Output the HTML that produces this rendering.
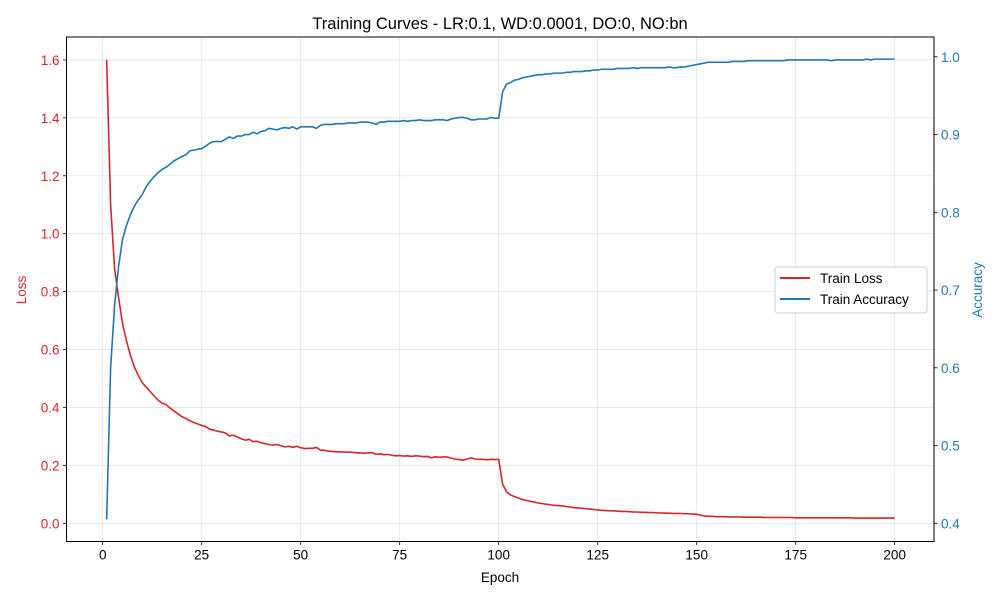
<!DOCTYPE html>
<html><head><meta charset="utf-8"><style>
html,body{margin:0;padding:0;background:#fff;}
svg{display:block;font-family:"Liberation Sans","DejaVu Sans",sans-serif;}
</style></head><body>
<svg id="chart" width="1000" height="600" viewBox="0 0 1000 600" xmlns="http://www.w3.org/2000/svg">
<rect x="0" y="0" width="1000" height="600" fill="#fff"/>
<text x="500" y="29" font-size="16.5" text-anchor="middle" fill="#000">Training Curves - LR:0.1, WD:0.0001, DO:0, NO:bn</text>
<g id="grid"></g><g id="series"></g><g id="axes"></g>
<text x="500" y="582" font-size="13.5" text-anchor="middle">Epoch</text>
<text transform="translate(26,290) rotate(-90)" font-size="13.5" text-anchor="middle" fill="#d62728">Loss</text>
<text transform="translate(982,290) rotate(-90)" font-size="13.5" text-anchor="middle" fill="#1f77b4">Accuracy</text>
<g>
<rect x="775" y="267" width="152" height="46" rx="3" fill="#fff" fill-opacity="0.8" stroke="#ccc"/>
<line x1="780" y1="278" x2="810" y2="278" stroke="#d62728" stroke-width="2"/>
<text x="820" y="283" font-size="13.5">Train Loss</text>
<line x1="780" y1="299" x2="810" y2="299" stroke="#1f77b4" stroke-width="2"/>
<text x="820" y="304" font-size="13.5">Train Accuracy</text>
</g>
</svg>
<script>
const xTicks=[0,25,50,75,100,125,150,175,200];
const lossTicks=[0.0,0.2,0.4,0.6,0.8,1.0,1.2,1.4,1.6];
const accTicks=[0.4,0.5,0.6,0.7,0.8,0.9,1.0];
const trainLoss=[1.600,1.100,0.880,0.780,0.690,0.630,0.580,0.540,0.510,0.485,
0.470,0.455,0.440,0.425,0.415,0.410,0.398,0.388,0.378,0.368,
0.362,0.354,0.348,0.343,0.338,0.334,0.325,0.322,0.318,0.315,
0.312,0.302,0.304,0.298,0.292,0.287,0.290,0.282,0.283,0.278,
0.275,0.272,0.270,0.272,0.268,0.264,0.266,0.262,0.266,0.261,
0.258,0.259,0.259,0.262,0.253,0.252,0.249,0.248,0.247,0.247,
0.246,0.246,0.245,0.244,0.243,0.242,0.243,0.244,0.238,0.240,
0.237,0.238,0.235,0.233,0.234,0.232,0.233,0.231,0.233,0.232,
0.230,0.231,0.226,0.230,0.228,0.229,0.229,0.225,0.222,0.220,
0.218,0.222,0.226,0.222,0.221,0.221,0.219,0.221,0.220,0.221,
0.135,0.108,0.098,0.092,0.087,0.082,0.079,0.076,0.073,0.070,
0.068,0.066,0.064,0.062,0.061,0.060,0.058,0.056,0.054,0.053,
0.052,0.050,0.049,0.048,0.046,0.045,0.044,0.043,0.043,0.042,
0.041,0.041,0.040,0.039,0.039,0.038,0.038,0.037,0.037,0.036,
0.036,0.035,0.035,0.034,0.034,0.034,0.033,0.033,0.032,0.031,
0.028,0.025,0.024,0.024,0.023,0.023,0.023,0.022,0.022,0.022,
0.022,0.021,0.021,0.021,0.021,0.021,0.020,0.020,0.020,0.020,
0.020,0.020,0.020,0.020,0.019,0.019,0.019,0.019,0.019,0.019,
0.019,0.019,0.019,0.019,0.019,0.019,0.019,0.019,0.019,0.018,
0.018,0.018,0.018,0.018,0.018,0.018,0.018,0.018,0.018,0.018];
const trainAcc=[0.405,0.600,0.680,0.730,0.765,0.783,0.797,0.808,0.816,0.823,
0.833,0.840,0.846,0.851,0.855,0.858,0.862,0.866,0.869,0.872,
0.874,0.879,0.880,0.881,0.882,0.885,0.889,0.891,0.891,0.891,
0.894,0.897,0.895,0.898,0.898,0.900,0.900,0.903,0.901,0.904,
0.905,0.908,0.907,0.906,0.908,0.909,0.908,0.910,0.907,0.910,
0.910,0.910,0.910,0.908,0.912,0.913,0.913,0.913,0.914,0.914,
0.914,0.915,0.915,0.915,0.916,0.916,0.916,0.915,0.913,0.916,
0.916,0.917,0.917,0.917,0.917,0.918,0.917,0.918,0.918,0.919,
0.918,0.918,0.918,0.919,0.919,0.919,0.918,0.920,0.921,0.922,
0.922,0.921,0.919,0.919,0.920,0.920,0.920,0.922,0.921,0.921,
0.955,0.965,0.967,0.970,0.971,0.973,0.974,0.975,0.976,0.977,
0.977,0.978,0.978,0.979,0.979,0.979,0.980,0.980,0.981,0.981,
0.981,0.982,0.982,0.983,0.983,0.984,0.984,0.984,0.984,0.985,
0.985,0.985,0.985,0.986,0.985,0.986,0.986,0.986,0.986,0.986,
0.986,0.986,0.987,0.986,0.986,0.987,0.987,0.988,0.989,0.990,
0.991,0.992,0.993,0.993,0.993,0.993,0.993,0.993,0.994,0.994,
0.994,0.994,0.995,0.995,0.995,0.995,0.995,0.995,0.995,0.995,
0.995,0.995,0.996,0.996,0.996,0.996,0.996,0.996,0.996,0.996,
0.996,0.996,0.996,0.995,0.996,0.996,0.996,0.996,0.996,0.996,
0.996,0.996,0.997,0.996,0.997,0.997,0.997,0.997,0.997,0.997];

const NS="http://www.w3.org/2000/svg";
const L=66.5,R=934,T=37,B=541.5;
const xScale=e=>102.7+(e)*3.96;
const yLoss=v=>523.3-v*289.6;
const yAcc=v=>523.3-(v-0.4)*777.5;
function mk(tag,attrs,parent){const el=document.createElementNS(NS,tag);for(const k in attrs)el.setAttribute(k,attrs[k]);parent.appendChild(el);return el;}
const grid=document.getElementById('grid'),axes=document.getElementById('axes'),series=document.getElementById('series');
xTicks.forEach(t=>{const x=xScale(t);
 const g=mk('line',{x1:x,x2:x,y1:T,y2:B,stroke:'#b0b0b0','stroke-opacity':0.35,'stroke-width':0.8},grid);
 
 
 mk('line',{x1:x,x2:x,y1:B,y2:B+3.5,stroke:'#000','stroke-width':0.8},axes);
 const tx=mk('text',{x:x,y:B+18,'font-size':13.5,'text-anchor':'middle'},axes);tx.textContent=t;
 
 
});
lossTicks.forEach(t=>{const y=yLoss(t);
 const g=mk('line',{x1:L,x2:R,y1:y,y2:y,stroke:'#b0b0b0','stroke-opacity':0.35,'stroke-width':0.8},grid);
 
 
 mk('line',{x1:L-3.5,x2:L,y1:y,y2:y,stroke:'#000','stroke-width':0.8},axes);
 const tx=mk('text',{x:L-7,y:y+5,'font-size':13.5,'text-anchor':'end',fill:'#d62728'},axes);tx.textContent=t.toFixed(1);
 
 
});
accTicks.forEach(t=>{const y=yAcc(t);
 mk('line',{x1:R,x2:R+3.5,y1:y,y2:y,stroke:'#000','stroke-width':0.8},axes);
 const tx=mk('text',{x:R+7,y:y+5,'font-size':13.5,'text-anchor':'start',fill:'#1f77b4'},axes);tx.textContent=t.toFixed(1);
 
 
});
const frame=mk('rect',{x:L,y:T,width:R-L,height:B-T,fill:'none',stroke:'#000','stroke-width':1},axes);


const lp=trainLoss.map((v,i)=>xScale(i+1).toFixed(2)+','+yLoss(v).toFixed(2)).join(' ');
const l1=mk('polyline',{points:lp,fill:'none',stroke:'#d62728','stroke-width':1.6,'stroke-linejoin':'round'},series);


const ap=trainAcc.map((v,i)=>xScale(i+1).toFixed(2)+','+yAcc(v).toFixed(2)).join(' ');
const l2=mk('polyline',{points:ap,fill:'none',stroke:'#1f77b4','stroke-width':1.6,'stroke-linejoin':'round'},series);


</script>
</body></html>
